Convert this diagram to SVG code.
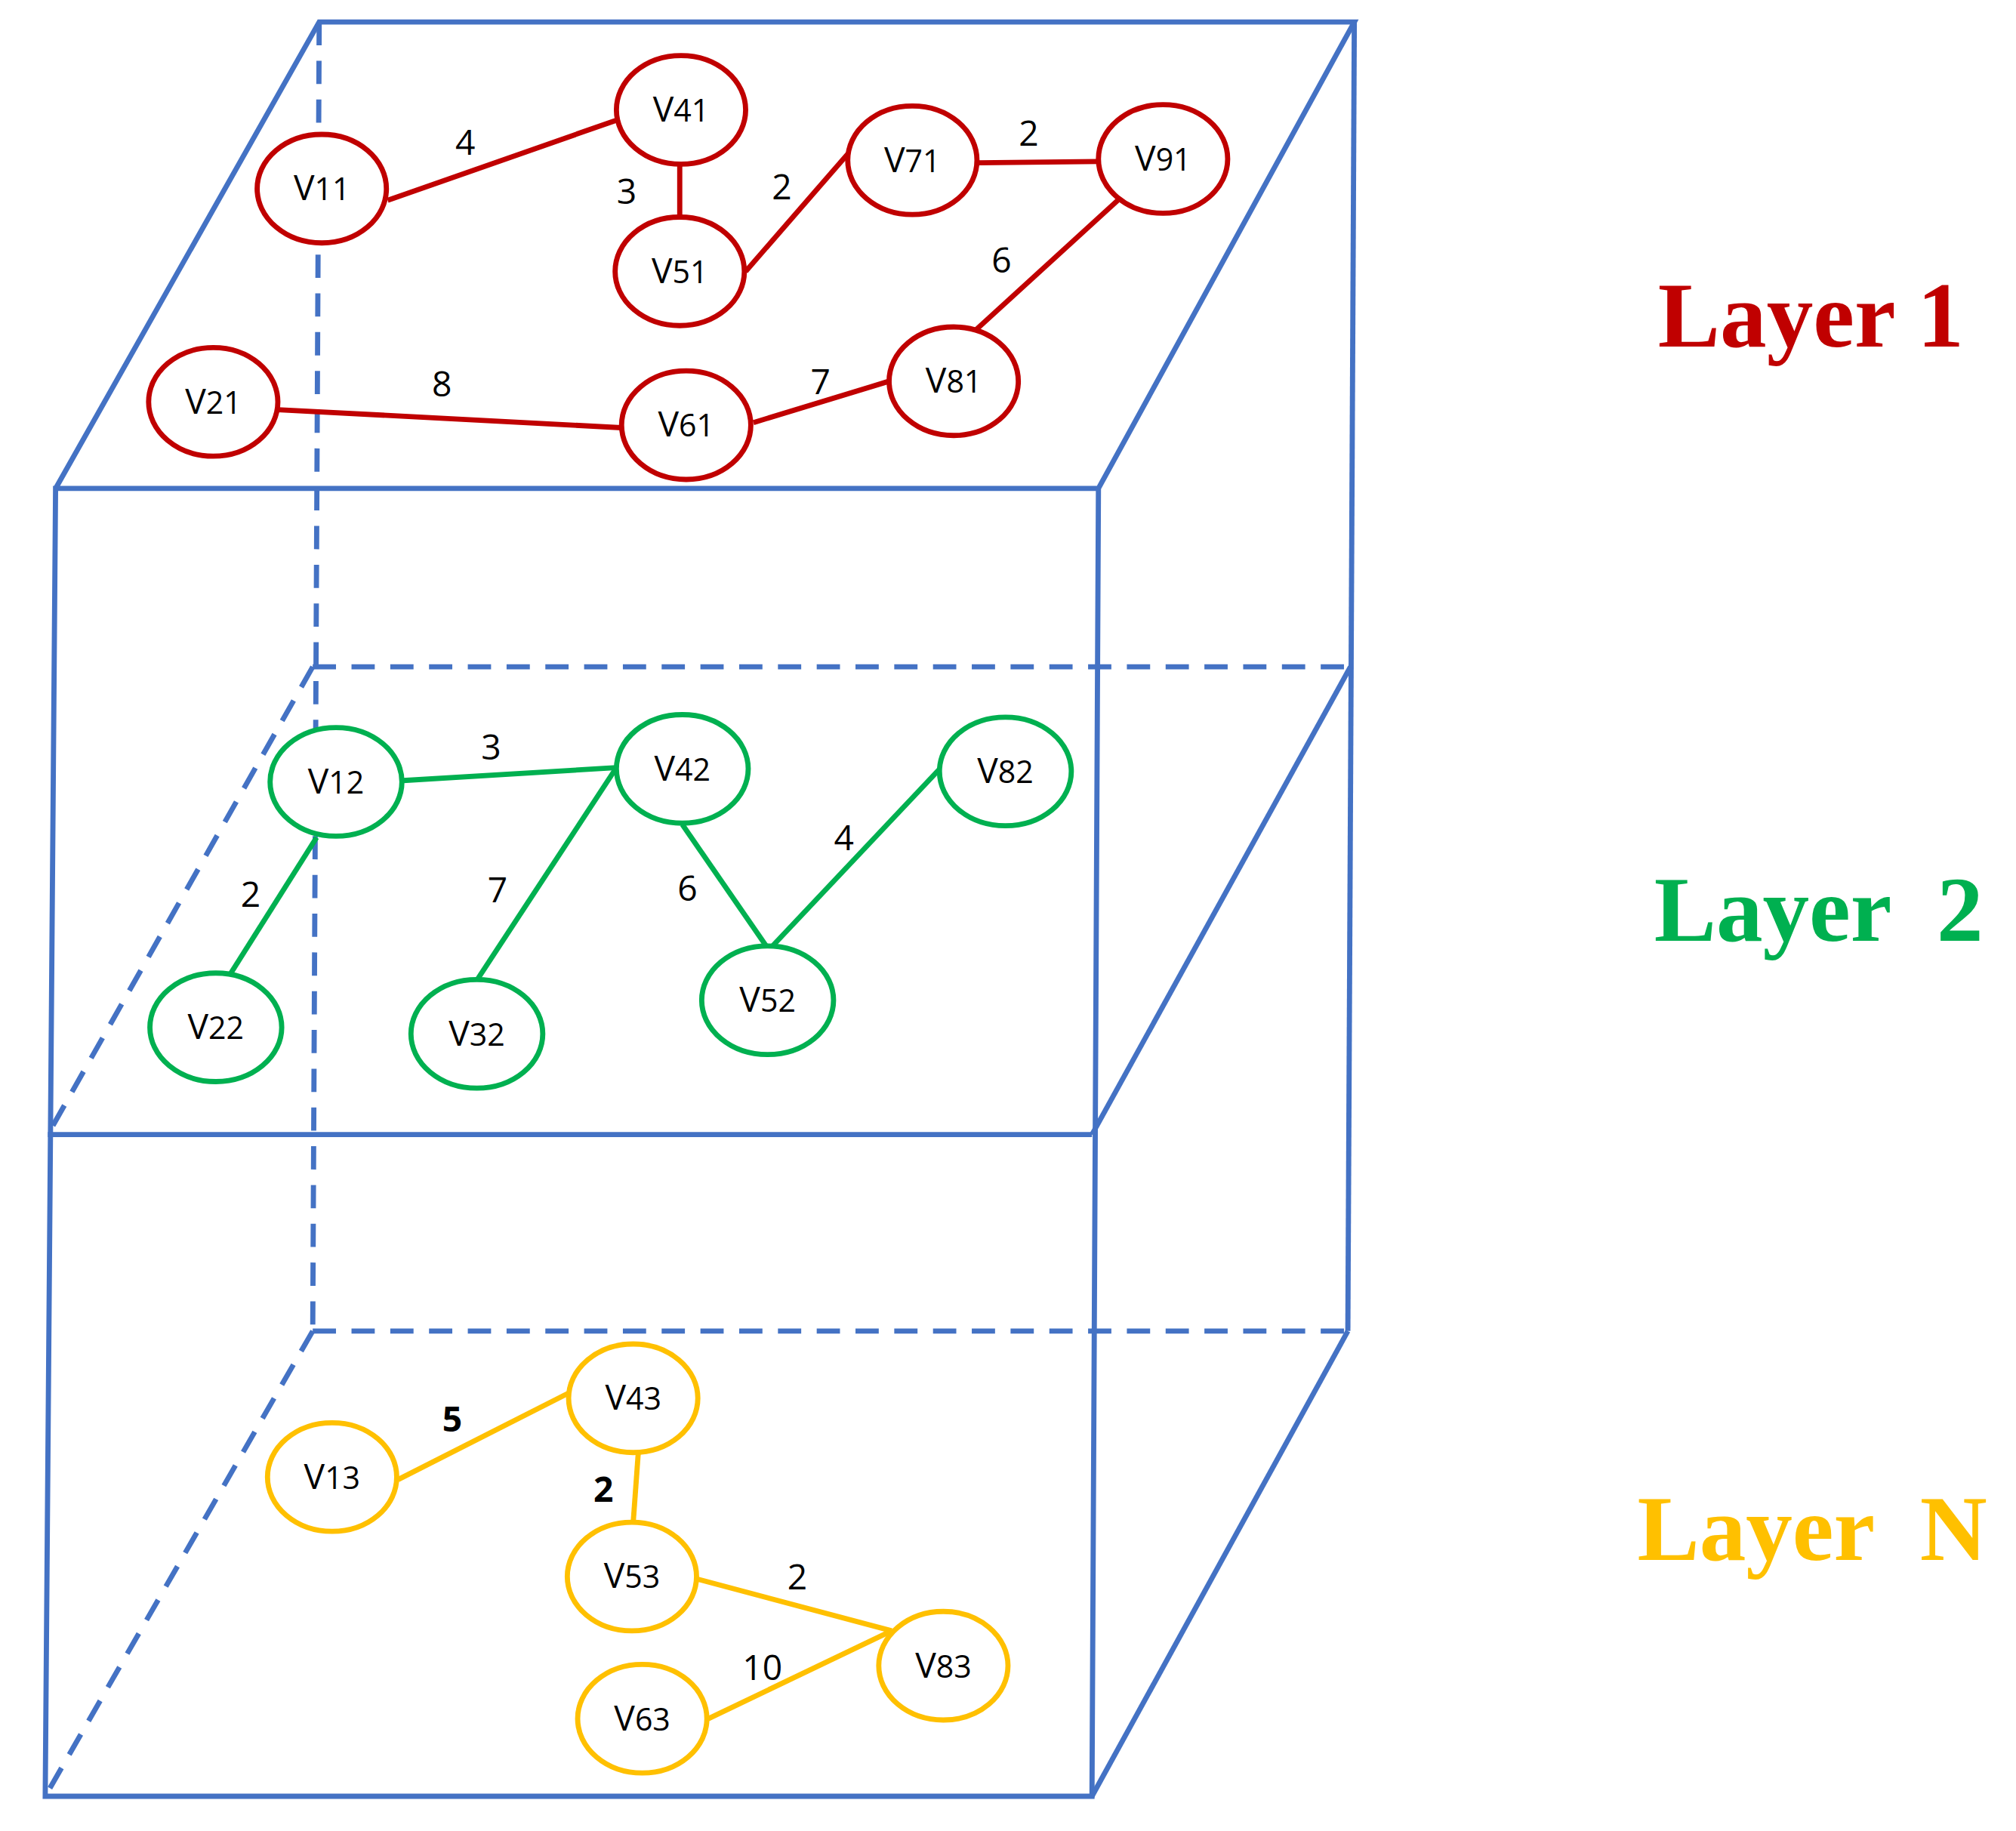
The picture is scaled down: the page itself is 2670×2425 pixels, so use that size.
<svg xmlns="http://www.w3.org/2000/svg" width="2670" height="2425" viewBox="0 0 2670 2425">
<style>
.b{stroke:#4472C4;stroke-width:4;fill:none}
.d{stroke:#4472C4;stroke-width:4;fill:none;stroke-dasharray:18 12}
.r{stroke:#C00000}.g{stroke:#00B050}.y{stroke:#FFC000}
ellipse{fill:#fff;stroke-width:4}
line.e{stroke-width:4}
text{font-family:"Open Sans","DejaVu Sans",sans-serif;font-size:27px;text-anchor:middle;fill:#000}
.s{font-size:24px}
.L{font-family:"Liberation Serif",serif;font-weight:bold;font-size:72px;text-anchor:start}
.Lr{fill:#C00000}.Lg{fill:#00B050}.Ly{fill:#FFC000}
</style>
<rect width="2670" height="2425" fill="#fff"/>
<g transform="scale(1.7115)">
<g id="box">
<line class="d" x1="247" y1="17" x2="242" y2="1030"/>
<line class="d" x1="242" y1="516" x2="1045" y2="516"/>
<line class="d" x1="242" y1="516" x2="37" y2="878"/>
<line class="d" x1="242" y1="1030" x2="1043" y2="1030"/>
<line class="d" x1="242" y1="1030" x2="35" y2="1390"/>
<polyline class="b" points="43,378 247,17 1048,17 850,378 43,378 35,1390 845,1390 850,378"/>
<line class="b" x1="1048" y1="17" x2="1043" y2="1030"/>
<line class="b" x1="37" y1="878" x2="845" y2="878"/>
<line class="b" x1="1045" y1="516" x2="845" y2="878"/>
<line class="b" x1="1043" y1="1030" x2="845" y2="1390"/>
</g>
<g id="connectors">
<g class="r">
<line class="e" x1="300" y1="155" x2="477" y2="93"/>
<line class="e" x1="526" y1="127" x2="526" y2="168"/>
<line class="e" x1="577" y1="210" x2="657" y2="118"/>
<line class="e" x1="757" y1="126" x2="850" y2="125"/>
<line class="e" x1="865" y1="155" x2="750" y2="260"/>
<line class="e" x1="215" y1="317" x2="481" y2="331"/>
<line class="e" x1="583" y1="327" x2="688" y2="295"/>
</g>
<g class="g">
<line class="e" x1="312" y1="604" x2="477" y2="594"/>
<line class="e" x1="245" y1="648" x2="173" y2="762"/>
<line class="e" x1="477" y1="594" x2="370" y2="757"/>
<line class="e" x1="528" y1="638" x2="595" y2="735"/>
<line class="e" x1="595" y1="735" x2="730" y2="592"/>
</g>
<g class="y">
<line class="e" x1="308" y1="1145" x2="440" y2="1078"/>
<line class="e" x1="494" y1="1123" x2="490" y2="1178"/>
<line class="e" x1="540" y1="1222" x2="690" y2="1262"/>
<line class="e" x1="548" y1="1330" x2="690" y2="1262"/>
</g>
<text x="360" y="120">4</text><text x="485" y="158">3</text><text x="605" y="154">2</text>
<text x="796" y="113">2</text><text x="775" y="211">6</text><text x="342" y="307">8</text><text x="635" y="305">7</text>
<text x="380" y="588">3</text><text x="194" y="702">2</text><text x="385" y="698">7</text><text x="532" y="697">6</text><text x="653" y="658">4</text>
<text x="350" y="1108" font-weight="bold">5</text><text x="467" y="1162" font-weight="bold">2</text><text x="617" y="1230">2</text><text x="590" y="1300">10</text>
</g>
<g id="V11"><ellipse class="r" cx="249" cy="146" rx="50" ry="42"/><text x="249" y="155">V<tspan class="s">11</tspan></text></g>
<g id="V41"><ellipse class="r" cx="527" cy="85" rx="50" ry="42"/><text x="527" y="94">V<tspan class="s">41</tspan></text></g>
<g id="V51"><ellipse class="r" cx="526" cy="210" rx="50" ry="42"/><text x="526" y="219">V<tspan class="s">51</tspan></text></g>
<g id="V71"><ellipse class="r" cx="706" cy="124" rx="50" ry="42"/><text x="706" y="133">V<tspan class="s">71</tspan></text></g>
<g id="V91"><ellipse class="r" cx="900" cy="123" rx="50" ry="42"/><text x="900" y="132">V<tspan class="s">91</tspan></text></g>
<g id="V81"><ellipse class="r" cx="738" cy="295" rx="50" ry="42"/><text x="738" y="304">V<tspan class="s">81</tspan></text></g>
<g id="V21"><ellipse class="r" cx="165" cy="311" rx="50" ry="42"/><text x="165" y="320">V<tspan class="s">21</tspan></text></g>
<g id="V61"><ellipse class="r" cx="531" cy="329" rx="50" ry="42"/><text x="531" y="338">V<tspan class="s">61</tspan></text></g>
<g id="V12"><ellipse class="g" cx="260" cy="605" rx="51" ry="42"/><text x="260" y="614">V<tspan class="s">12</tspan></text></g>
<g id="V42"><ellipse class="g" cx="528" cy="595" rx="51" ry="42"/><text x="528" y="604">V<tspan class="s">42</tspan></text></g>
<g id="V82"><ellipse class="g" cx="778" cy="597" rx="51" ry="42"/><text x="778" y="606">V<tspan class="s">82</tspan></text></g>
<g id="V22"><ellipse class="g" cx="167" cy="795" rx="51" ry="42"/><text x="167" y="804">V<tspan class="s">22</tspan></text></g>
<g id="V32"><ellipse class="g" cx="369" cy="800" rx="51" ry="42"/><text x="369" y="809">V<tspan class="s">32</tspan></text></g>
<g id="V52"><ellipse class="g" cx="594" cy="774" rx="51" ry="42"/><text x="594" y="783">V<tspan class="s">52</tspan></text></g>
<g id="V13"><ellipse class="y" cx="257" cy="1143" rx="50" ry="42"/><text x="257" y="1152">V<tspan class="s">13</tspan></text></g>
<g id="V43"><ellipse class="y" cx="490" cy="1082" rx="50" ry="42"/><text x="490" y="1091">V<tspan class="s">43</tspan></text></g>
<g id="V53"><ellipse class="y" cx="489" cy="1220" rx="50" ry="42"/><text x="489" y="1229">V<tspan class="s">53</tspan></text></g>
<g id="V83"><ellipse class="y" cx="730" cy="1289" rx="50" ry="42"/><text x="730" y="1298">V<tspan class="s">83</tspan></text></g>
<g id="V63"><ellipse class="y" cx="497" cy="1330" rx="50" ry="42"/><text x="497" y="1339">V<tspan class="s">63</tspan></text></g>
<g id="labels">
<text class="L Lr" x="1283" y="268">Layer 1</text>
<text class="L Lg" x="1280" y="728" xml:space="preserve">Layer  2</text>
<text class="L Ly" x="1267" y="1207" xml:space="preserve">Layer  N</text>
</g>
</g>
</svg>
